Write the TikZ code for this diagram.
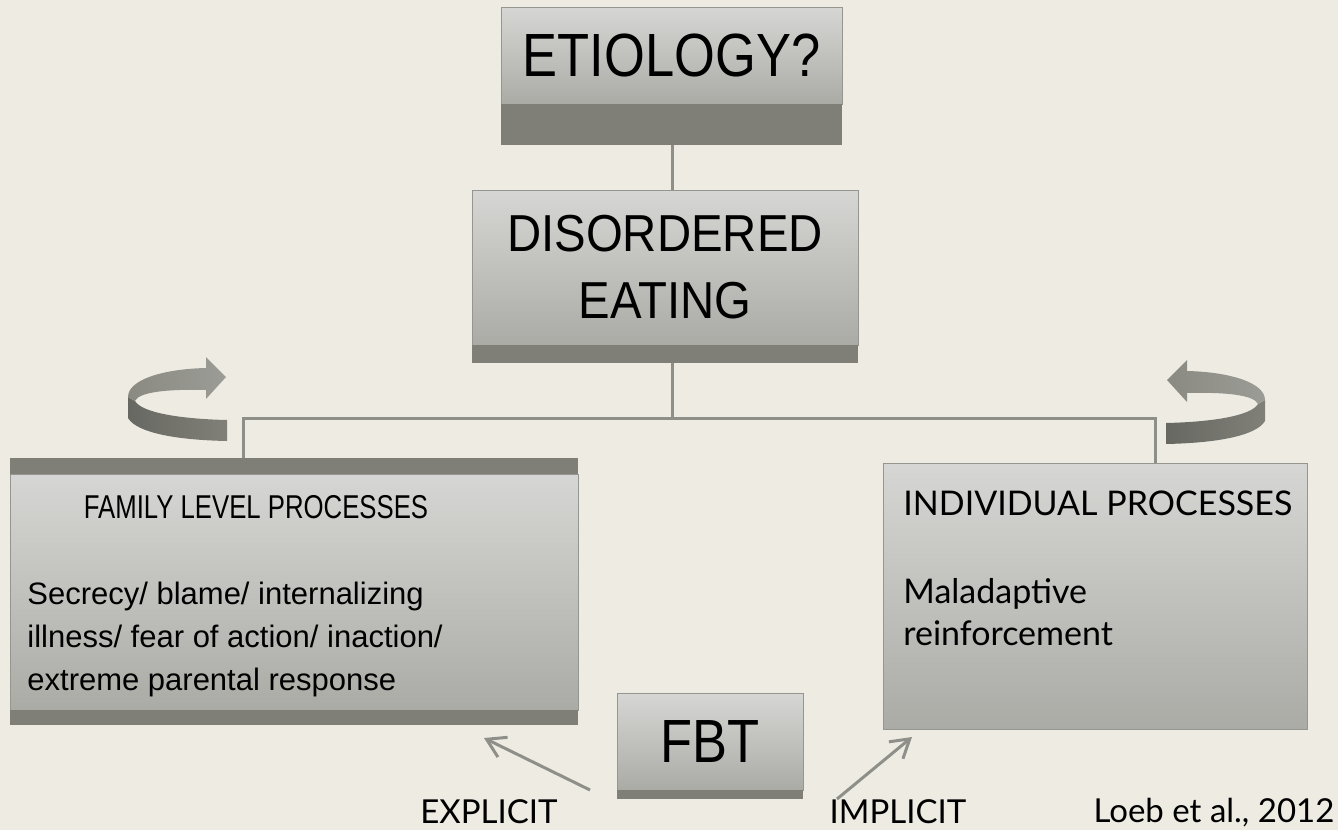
\documentclass[tikz,border=0pt]{standalone}
\usepackage{fontspec}
\setmainfont{Liberation Sans}
\newfontfamily\narrowfont[FakeStretch=0.86]{Liberation Sans}
\newfontfamily\plainnarrowfont[FakeStretch=0.91]{Liberation Sans}
\newfontfamily\tightfont[FakeStretch=0.78]{Liberation Sans}
\newfontfamily\gillfont{Lato}
\usetikzlibrary{arrows.meta,calc}

\definecolor{paper}{RGB}{238,235,227}
\definecolor{boxtop}{RGB}{214,214,212}
\definecolor{boxbot}{RGB}{171,171,166}
\definecolor{boxline}{RGB}{150,150,145}
\definecolor{bandgrey}{RGB}{127,127,120}
\definecolor{linkgrey}{RGB}{143,143,137}
\definecolor{ribbonback}{RGB}{138,138,131}
\definecolor{ribbonhead}{RGB}{156,156,150}
\definecolor{ribbondark}{RGB}{104,104,98}
\definecolor{ribbonmid}{RGB}{128,128,121}

\tikzset{
  greybox/.style={draw=boxline, line width=0.5pt, top color=boxtop, bottom color=boxbot,
    inner sep=0pt, outer sep=0pt},
  greyband/.style={fill=bandgrey, inner sep=0pt, outer sep=0pt},
  branch/.style={draw=linkgrey, line width=1.5pt},
  hint/.style={draw=linkgrey, line width=1.5pt, -{Straight Barb[length=9pt,width=11pt]}},
  cornerlabel/.style={font=\gillfont\fontsize{16.5}{20}\selectfont, anchor=base, inner sep=0pt},
  turnarrow/.pic={
    % front of the ribbon
    \path[left color=ribbondark, right color=ribbonmid]
      (-49,-3) -- (-49,18) .. controls (-40,33) and (0,40) .. (50,41) -- (50,20)
      .. controls (5,19) and (-35,13) .. (-42,1) -- cycle;
    % back of the ribbon and head
    \path[left color=ribbonback, right color=ribbonhead]
      (29,-32) .. controls (-15,-31) and (-49,-20) .. (-49,-3) -- (-42,1)
      .. controls (-38,-8) and (-10,-11) .. (29,-10) -- (29,-1) -- (49,-23) -- (29,-43) -- cycle;
  }
}

\begin{document}
\begin{tikzpicture}[x=0.5pt,y=-0.5pt]
    \path[use as bounding box, fill=paper] (0,0) rectangle (1338,830);

    % Top boxes
    \node[greybox, minimum width=170.5pt, minimum height=48.5pt,
      font=\narrowfont\fontsize{30.5}{36}\selectfont] (etiology) at (671.5,55.5) {ETIOLOGY?};
    \node[greyband, minimum width=170.5pt, minimum height=20.5pt, anchor=north] (etioband) at (etiology.south) {};

    \node[greybox, minimum width=193pt, minimum height=77.5pt, align=center,
      font=\plainnarrowfont\fontsize{26}{33.5}\selectfont] (disordered) at (665,267.5) {DISORDERED\\EATING};
    \node[greyband, minimum width=193pt, minimum height=9pt, anchor=north] (disband) at (disordered.south) {};

    % Family box
    \node[greyband, minimum width=284pt, minimum height=8pt] (famtop) at (294,466) {};
    \node[greybox, minimum width=284pt, minimum height=118pt, anchor=north] (family) at (famtop.south) {};
    \node[greyband, minimum width=284pt, minimum height=7.5pt, anchor=north] (fambot) at (family.south) {};
    \node[anchor=base, inner sep=0pt, font=\tightfont\fontsize{16.5}{20}\selectfont] (famtitle) at (256,518) {FAMILY LEVEL PROCESSES};
    \node[anchor=north west, inner sep=0pt, align=left, font=\fontsize{15.5}{21.5}\selectfont] (famtext) at (27,582)
      {Secrecy/ blame/ internalizing\\illness/ fear of action/ inaction/\\extreme parental response};

    % Individual box
    \node[greybox, minimum width=212pt, minimum height=133pt] (indiv) at (1095,596) {};
    \node[anchor=base west, inner sep=0pt, font=\gillfont\fontsize{17}{20}\selectfont] (indtitle) at (903,515) {INDIVIDUAL PROCESSES};
    \node[anchor=north west, inner sep=0pt, align=left, font=\gillfont\fontsize{17}{21}\selectfont] (indtext) at (903,578)
      {Maladaptive\\reinforcement};

    % FBT
    \node[greybox, minimum width=93pt, minimum height=48.5pt,
      font=\narrowfont\fontsize{30.5}{36}\selectfont] (fbt) at (710,741.5) {FBT};
    \node[greyband, minimum width=93pt, minimum height=4.5pt, anchor=north] (fbtband) at (fbt.south) {};

    % Connectors
    \coordinate (split) at (672,418);
    \coordinate (famdrop) at (243,418);
    \coordinate (inddrop) at (1155,418);
    \draw[branch] (etioband.south -| split) -- (disordered.north -| split);
    \draw[branch] (disband.south -| split) -- (split);
    \draw[branch] (famdrop |- famtop.north) -- (famdrop) -- (inddrop) -- (inddrop |- indiv.north);

    % Turning arrows
    \pic at (177,400) {turnarrow};
    \pic[xscale=-1] at (1216,403) {turnarrow};

    % FBT arrows
    \coordinate (explicitend) at (484,738);
    \coordinate (implicitend) at (912,737);
    \draw[hint] ($(fbtband.south west)+(-27,-9)$) -- (explicitend);
    \draw[hint] ($(fbtband.south east)+(34,0)$) -- (implicitend);

    % Labels
    \node[cornerlabel] (explicit) at (489,823) {EXPLICIT};
    \node[cornerlabel] (implicit) at (898,823) {IMPLICIT};
    \node[cornerlabel] (source) at (1214,822) {Loeb et al., 2012};
\end{tikzpicture}
\end{document}
